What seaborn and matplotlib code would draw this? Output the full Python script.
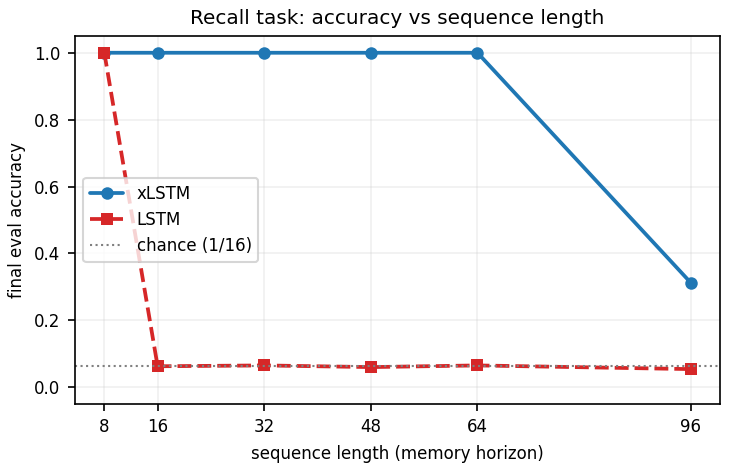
import matplotlib.pyplot as plt
import pandas as pd
import seaborn as sns

# values
seq_lens = [8, 16, 32, 48, 64, 96]
xlstm_acc = [1.0, 1.0, 1.0, 1.0, 1.0, 0.3125]
lstm_acc = [1.0, 0.0625, 0.065, 0.06, 0.065, 0.054]
chance = 1 / 16

df = pd.DataFrame({"seq_len": seq_lens, "xLSTM": xlstm_acc, "LSTM": lstm_acc})

sns.set_style("ticks")
plt.rcParams["font.family"] = ["DejaVu Sans"]
plt.rcParams.update({"text.color": "black", "axes.labelcolor": "black",
                     "xtick.color": "black", "ytick.color": "black",
                     "axes.edgecolor": "black"})

fig, ax = plt.subplots(figsize=(731 / 150, 468 / 150), dpi=150)

sns.lineplot(data=df, x="seq_len", y="xLSTM", ax=ax, color="#1f77b4", marker="o",
             markersize=6, linewidth=1.8, markeredgewidth=0, label="xLSTM")
sns.lineplot(data=df, x="seq_len", y="LSTM", ax=ax, color="#d62728", marker="s",
             markersize=6, linewidth=1.8, markeredgewidth=0, linestyle="--", label="LSTM")
ax.axhline(chance, color="gray", linestyle=":", linewidth=1, label="chance (1/16)")

ax.set_xticks(seq_lens)
ax.set_yticks([0.0, 0.2, 0.4, 0.6, 0.8, 1.0])
ax.set_xlim(3.6, 100.4)
ax.set_ylim(-0.05, 1.05)
ax.grid(True, alpha=0.3)
ax.tick_params(labelsize=8, colors="black")
ax.set_xlabel("sequence length (memory horizon)", fontsize=8)
ax.set_ylabel("final eval accuracy", fontsize=8)
ax.set_title("Recall task: accuracy vs sequence length", fontsize=9.6)
ax.legend(loc="center left", fontsize=8)
for s in ax.spines.values():
    s.set_color("black")
    s.set_linewidth(0.8)

plt.subplots_adjust(left=0.1026, right=0.985, top=0.923, bottom=0.137)
plt.savefig("out.png", dpi=150)
